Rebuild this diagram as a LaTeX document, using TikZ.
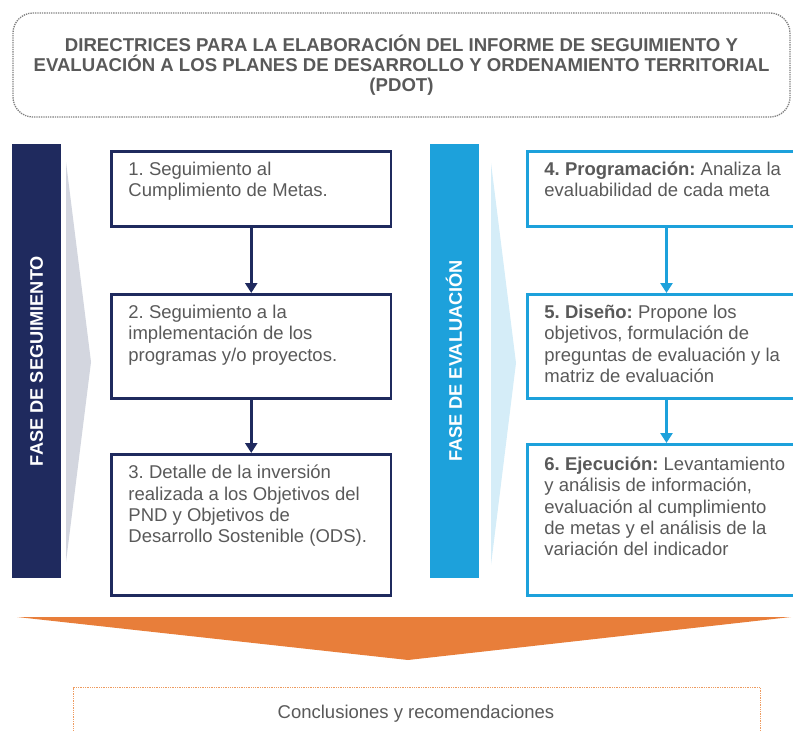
\documentclass[tikz,border=0pt]{standalone}
\usepackage{fontspec}
\setmainfont{Liberation Sans}
\frenchspacing
\usetikzlibrary{positioning, arrows.meta}

\definecolor{navy}{HTML}{1F2A5E}
\definecolor{skyblue}{HTML}{1DA1DB}
\definecolor{chevgray}{HTML}{D3D6DF}
\definecolor{chevblue}{HTML}{D5EDF8}
\definecolor{fanorange}{HTML}{E87E3A}
\definecolor{dotorange}{HTML}{EE9B60}
\definecolor{textgray}{HTML}{595959}
\definecolor{dotgray}{HTML}{7F7F7F}

\begin{document}
\begin{tikzpicture}[
    x=1pt, y=-1pt,
    font=\fontsize{18.5}{21.2}\selectfont,
    titlebox/.style={
        draw=dotgray,
        densely dotted,
        line width=1.3pt,
        rounded corners=20pt,
        text=textgray,
        align=center,
        font=\bfseries\fontsize{18.6}{20}\selectfont,
        minimum width=777pt,
        minimum height=104pt
    },
    phasebar/.style={
        rotate=90,
        text=white,
        font=\bfseries\fontsize{18.2}{20}\selectfont,
        inner sep=0pt,
        minimum width=434pt,
        minimum height=49pt
    },
    segbox/.style={
        draw=navy,
        line width=2.5pt,
        anchor=north west,
        inner sep=0pt,
        minimum width=279.5pt
    },
    evalbox/.style={
        draw=skyblue,
        line width=2.5pt,
        anchor=north west,
        inner sep=0pt,
        minimum width=278pt
    },
    boxtext/.style={
        anchor=north west,
        inner sep=0pt,
        align=left,
        text=textgray,
        execute at begin node=\strut
    },
    segarrow/.style={
        draw=navy,
        line width=2.8pt,
        -{Triangle[width=12pt, length=10pt]}
    },
    evalarrow/.style={
        draw=skyblue,
        line width=2.8pt,
        -{Triangle[width=12pt, length=10pt]}
    },
    conclbox/.style={
        draw=dotorange,
        densely dotted,
        line width=1.3pt,
        anchor=north west,
        minimum width=687pt,
        minimum height=60pt
    }
]

    \useasboundingbox (0,0) rectangle (793,731);

    % Title
    \node[titlebox] (title) at (401.5,65) {DIRECTRICES PARA LA ELABORACIÓN DEL INFORME DE SEGUIMIENTO Y\\
        EVALUACIÓN A LOS PLANES DE DESARROLLO Y ORDENAMIENTO TERRITORIAL\\
        (PDOT)};

    % Phase bars and chevrons
    \node[phasebar, fill=navy] (segbar) at (36.5,361) {FASE DE SEGUIMIENTO};
    \fill[chevgray] (66,162) -- (91,362) -- (66,562) -- cycle;

    \node[phasebar, fill=skyblue] (evalbar) at (454,361) {FASE DE EVALUACIÓN};
    \fill[chevblue] (491,163) -- (516,363) -- (491,565) -- cycle;

    % Seguimiento column
    \node[segbox, minimum height=75pt] (s1) at (110.25,150) {};
    \node[segbox, minimum height=104pt, below=65.5pt of s1] (s2) {};
    \node[segbox, minimum height=141pt, below=53.5pt of s2] (s3) {};

    \node[boxtext, below right=12pt and 18pt of s1.north west] (s1txt) {1. Seguimiento al\\Cumplimiento de Metas.};
    \node[boxtext, below right=12pt and 18pt of s2.north west] (s2txt) {2. Seguimiento a la\\implementación de los\\programas y/o proyectos.};
    \node[boxtext, below right=12pt and 18pt of s3.north west] (s3txt) {3. Detalle de la inversión\\realizada a los Objetivos del\\PND y Objetivos de\\Desarrollo Sostenible (ODS).};

    \draw[segarrow] (s1) -- (s2);
    \draw[segarrow] (s2) -- (s3);

    % Evaluacion column
    \node[evalbox, minimum height=75pt] (e1) at (526.25,150) {};
    \node[evalbox, minimum height=104pt, below=65.5pt of e1] (e2) {};
    \node[evalbox, minimum height=151pt, below=43.5pt of e2] (e3) {};

    \node[boxtext, below right=12pt and 18pt of e1.north west] (e1txt) {\textbf{4. Programación:} Analiza la\\evaluabilidad de cada meta};
    \node[boxtext, below right=12pt and 18pt of e2.north west] (e2txt) {\textbf{5. Diseño:} Propone los\\objetivos, formulación de\\preguntas de evaluación y la\\matriz de evaluación};
    \node[boxtext, below right=14pt and 18pt of e3.north west] (e3txt) {\textbf{6. Ejecución:} Levantamiento\\y análisis de información,\\evaluación al cumplimiento\\de metas y el análisis de la\\variación del indicador};

    \draw[evalarrow] (e1) -- (e2);
    \draw[evalarrow] (e2) -- (e3);

    % Funnel and conclusions
    \fill[fanorange] (17,617) -- (791,617) -- (408,660) -- cycle;

    \node[conclbox] (concl) at (73,687) {};
    \node[anchor=base, text=textgray, inner sep=0pt] (concltxt) at (416,718) {Conclusiones y recomendaciones};

\end{tikzpicture}
\end{document}
